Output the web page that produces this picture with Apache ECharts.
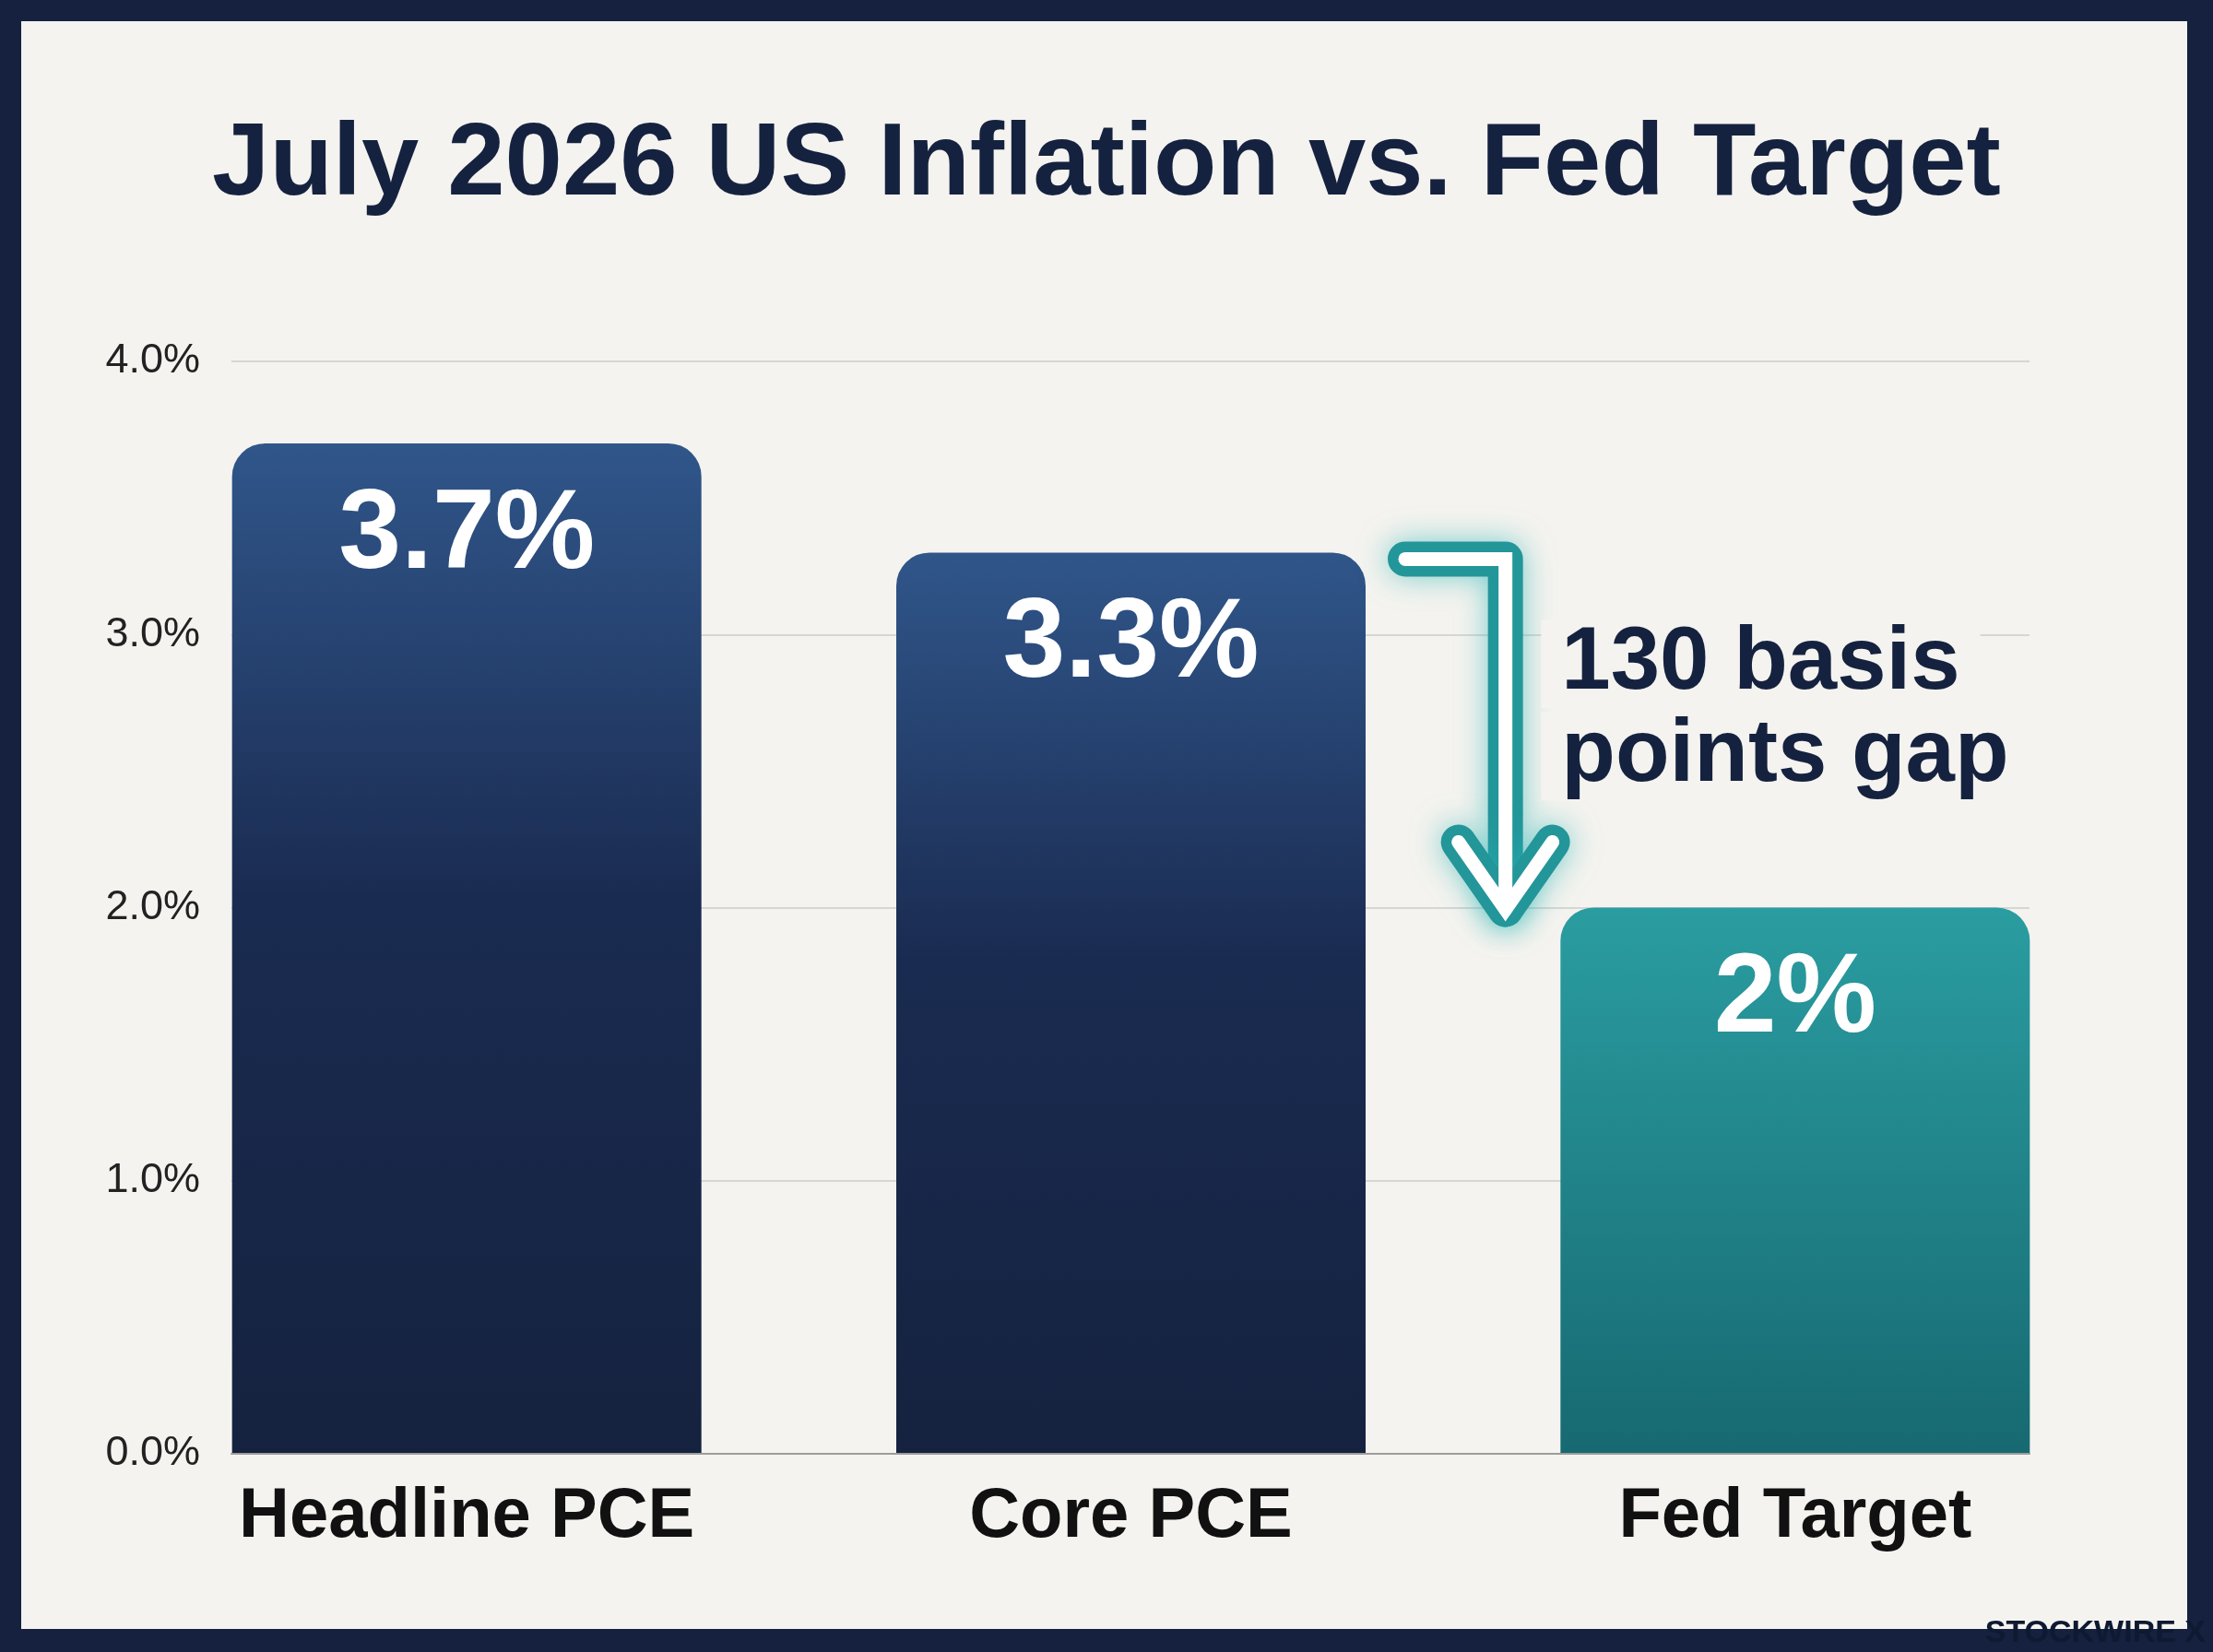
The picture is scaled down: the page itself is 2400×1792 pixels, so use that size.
<!DOCTYPE html>
<html>
<head>
<meta charset="utf-8">
<title>July 2026 US Inflation vs. Fed Target</title>
<script src="https://cdn.jsdelivr.net/npm/echarts@6/dist/echarts.min.js"></script>
<style>
    html, body { margin: 0; padding: 0; background: #15213f; }
    #paper { position: absolute; left: 23px; top: 23px; width: 2349px; height: 1744px; background: #f4f3ef; }
    #chart { position: absolute; left: 0; top: 0; width: 2400px; height: 1792px; }
</style>
</head>
<body>
<div id="paper"></div>
<div id="chart"></div>
<script>
// data
const categories = ['Headline PCE', 'Core PCE', 'Fed Target'];
const values = [3.7, 3.3, 2.0];
const yTickLabels = ['0.0%', '1.0%', '2.0%', '3.0%', '4.0%'];
const titleText = 'July 2026 US Inflation vs. Fed Target';
const watermark = 'STOCKWIRE X';

const font = 'Liberation Sans';
const paper = '#f4f3ef';
const navyText = '#15223f';

const dom = document.getElementById('chart');
const chart = echarts.init(dom, null, { renderer: 'canvas' });

const navyFill = new echarts.graphic.LinearGradient(0, 0, 0, 1, [
    { offset: 0, color: '#30568a' },
    { offset: 0.45, color: '#1a2b51' },
    { offset: 1, color: '#15223f' }
]);
const tealFill = new echarts.graphic.LinearGradient(0, 0, 0, 1, [
    { offset: 0, color: '#2a9da1' },
    { offset: 1, color: '#176971' }
]);

const plotTop = 392;
const plotHeight = 1185;

const option = {
    backgroundColor: 'transparent',
    animation: false,
    title: {
        text: titleText,
        left: 'center',
        top: 119,
        textStyle: {
            fontFamily: font,
            fontSize: 112,
            fontWeight: 'bold',
            lineHeight: 112,
            color: navyText
        }
    },
    grid: [
        // bars
        { left: 146, top: plotTop, width: 2161, height: plotHeight },
        // gridlines + y labels
        { left: 251, top: plotTop, width: 1950, height: plotHeight }
    ],
    xAxis: [
        {
            type: 'category',
            gridIndex: 0,
            data: categories,
            axisLine: { show: false },
            axisTick: { show: false },
            axisLabel: {
                margin: 31,
                fontFamily: font,
                fontSize: 76,
                fontWeight: 'bold',
                color: '#111111'
            }
        },
        {
            type: 'category',
            gridIndex: 1,
            data: categories,
            z: 3,
            axisLine: { show: true, lineStyle: { color: '#9c9c9c', width: 2 } },
            axisTick: { show: false },
            axisLabel: { show: false }
        }
    ],
    yAxis: [
        { type: 'value', gridIndex: 0, min: 0, max: 4, show: false },
        {
            type: 'value',
            gridIndex: 1,
            min: 0,
            max: 4,
            interval: 1,
            axisLine: { show: false },
            axisTick: { show: false },
            axisLabel: {
                margin: 34,
                fontFamily: font,
                fontSize: 45,
                color: '#222222',
                formatter: (v) => yTickLabels[Math.round(v)]
            },
            splitLine: { lineStyle: { color: '#d6d6d4', width: 2 } }
        }
    ],
    series: [
        {
            type: 'bar',
            xAxisIndex: 0,
            yAxisIndex: 0,
            data: values,
            barWidth: 509,
            itemStyle: {
                borderRadius: [36, 36, 0, 0],
                color: (p) => p.dataIndex === categories.length - 1 ? tealFill : navyFill
            },
            label: {
                show: true,
                position: 'insideTop',
                distance: 40,
                formatter: (p) => p.value + '%',
                fontFamily: font,
                fontSize: 122,
                lineHeight: 122,
                fontWeight: 'bold',
                color: '#ffffff'
            }
        }
    ]
};

chart.setOption(option);

// gap annotation, placed from the data through the bar scale
let drawGap = () => {
    const core = chart.convertToPixel({ seriesIndex: 0 }, [1, values[1]]);
    const target = chart.convertToPixel({ seriesIndex: 0 }, [2, values[2]]);
    const halfBar = 509 / 2;

    const x0 = core[0] + halfBar + 43;
    const xv = (core[0] + target[0]) / 2 + 46;
    const y0 = core[1] + 7;
    const tip = [xv, target[1] + 2];
    const shaft = [[x0, y0], [xv, y0], tip];
    const head = [[xv - 51, tip[1] - 73], tip, [xv + 51, tip[1] - 73]];

    const gap = Math.round((values[1] - values[2]) * 100);
    const note = '{a|' + gap + ' basis}\n{a|points gap}';

    const outer = {
        stroke: '#23969a',
        lineWidth: 38,
        lineCap: 'round',
        lineJoin: 'round',
        fill: null,
        shadowBlur: 32,
        shadowColor: 'rgba(40, 180, 180, 0.6)'
    };
    const inner = {
        stroke: '#ffffff',
        lineWidth: 15,
        lineCap: 'round',
        lineJoin: 'miter',
        fill: null
    };

    chart.setOption({
        graphic: [
            { type: 'polyline', z: 10, shape: { points: shaft }, style: outer },
            { type: 'polyline', z: 10, shape: { points: head }, style: outer },
            { type: 'polyline', z: 11, shape: { points: shaft }, style: inner },
            { type: 'polyline', z: 11, shape: { points: head }, style: inner },
            {
                type: 'text',
                z: 10,
                x: target[0] - halfBar - 21,
                y: (y0 + tip[1]) / 2 - 26,
                style: {
                    text: note,
                    verticalAlign: 'middle',
                    align: 'left',
                    rich: {
                        a: {
                            fontFamily: font,
                            fontSize: 96,
                            fontWeight: 'bold',
                            lineHeight: 100,
                            fill: navyText,
                            backgroundColor: paper,
                            padding: [0, 22]
                        }
                    }
                }
            },
            {
                type: 'text',
                z: 12,
                x: 2392,
                y: 1772,
                style: {
                    text: watermark,
                    align: 'right',
                    verticalAlign: 'middle',
                    font: 'bold 34px "Liberation Sans"',
                    fill: '#0e1932'
                }
            }
        ]
    });
}

drawGap();
window.addEventListener('resize', chart.resize);
</script>
</body>
</html>
